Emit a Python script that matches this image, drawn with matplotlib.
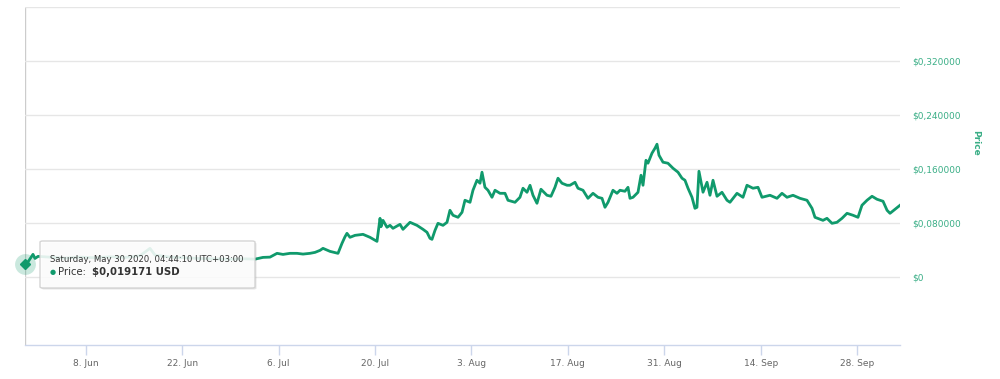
import matplotlib
matplotlib.use("Agg")
import matplotlib.pyplot as plt
import matplotlib.dates as mdates
from matplotlib.patches import FancyBboxPatch
from matplotlib.ticker import FuncFormatter, FixedLocator
import pandas as pd

# ---- data ----
start_time = "2020-05-30 04:44:10"
days_since_start = [
    0, 0.44, 0.87, 1.16, 1.45, 1.89, 3.63, 5.81, 7.98, 10.16, 12.34, 14.51, 16.69, 18.14,
    18.87, 21.05, 23.22, 25.40, 27.58, 29.75, 31.93, 33.38, 34.54, 35.56, 36.58, 37.45,
    38.46, 39.48, 40.35, 41.36, 42.09, 42.82, 43.25, 44.27, 45.43, 46.01, 46.44, 46.73,
    47.17, 47.90, 49.06, 50.07, 51.09, 51.53, 51.67, 51.96, 52.54, 52.98, 53.41, 54.43,
    54.86, 55.88, 56.89, 57.77, 58.35, 58.78, 59.07, 59.51, 59.94, 60.67, 61.25, 61.68,
    62.12, 62.85, 63.43, 63.86, 64.59, 65.02, 65.60, 66.04, 66.33, 66.76, 67.20, 67.78,
    68.22, 68.94, 69.67, 70.10, 71.12, 71.84, 72.28, 72.86, 73.30, 73.73, 74.31, 74.89,
    75.76, 76.34, 76.92, 77.36, 77.94, 78.67, 79.10, 79.83, 80.26, 80.99, 81.71, 82.44,
    83.17, 83.75, 84.18, 84.62, 85.34, 85.92, 86.36, 87.08, 87.52, 87.81, 88.25, 88.97,
    89.41, 89.70, 90.13, 90.42, 91.00, 91.44, 91.73, 92.02, 92.60, 93.32, 94.05, 94.78,
    95.36, 95.79, 96.23, 96.81, 97.24, 97.53, 97.82, 98.41, 98.99, 99.42, 99.86, 100.44,
    101.16, 101.89, 102.32, 103.34, 104.21, 104.79, 105.66, 106.39, 106.97, 108.13,
    109.15, 109.87, 110.60, 111.47, 112.48, 113.50, 114.23, 114.66, 115.82, 116.40,
    117.13, 117.85, 118.58, 119.31, 120.18, 120.90, 121.48, 122.21, 122.94, 123.66,
    124.54, 125.12, 125.55, 126.27, 127.00,
]
price_usd = [
    0.019171, 0.0230, 0.0296, 0.0341, 0.0280, 0.0311, 0.0300, 0.0285, 0.0300, 0.0290,
    0.0305, 0.0295, 0.0320, 0.0430, 0.0330, 0.0300, 0.0290, 0.0280, 0.0275, 0.0270,
    0.0275, 0.0270, 0.0296, 0.0300, 0.0356, 0.0340, 0.0356, 0.0356, 0.0345, 0.0356,
    0.0370, 0.0400, 0.0430, 0.0385, 0.0356, 0.0504, 0.0600, 0.0652, 0.0593, 0.0622,
    0.0637, 0.0593, 0.0533, 0.0874, 0.0750, 0.0844, 0.0741, 0.0770, 0.0726, 0.0785,
    0.0711, 0.0815, 0.0770, 0.0711, 0.0667, 0.0578, 0.0563, 0.0696, 0.0800, 0.0770,
    0.0815, 0.0993, 0.0919, 0.0889, 0.0963, 0.1141, 0.1111, 0.1289, 0.1437, 0.1393,
    0.1556, 0.1333, 0.1289, 0.1185, 0.1289, 0.1244, 0.1244, 0.1141, 0.1111, 0.1185,
    0.1319, 0.1259, 0.1363, 0.1215, 0.1096, 0.1304, 0.1215, 0.1200, 0.1333, 0.1467,
    0.1393, 0.1363, 0.1363, 0.1407, 0.1319, 0.1289, 0.1170, 0.1244, 0.1185, 0.1170,
    0.1037, 0.1111, 0.1289, 0.1244, 0.1289, 0.1274, 0.1333, 0.1170, 0.1185, 0.1259,
    0.1511, 0.1363, 0.1733, 0.1689, 0.1837, 0.1911, 0.1970, 0.1807, 0.1704, 0.1689,
    0.1615, 0.1556, 0.1467, 0.1437, 0.1319, 0.1185, 0.1022, 0.1037, 0.1570, 0.1260,
    0.1407, 0.1215, 0.1437, 0.1200, 0.1259, 0.1141, 0.1111, 0.1244, 0.1185, 0.1363,
    0.1319, 0.1333, 0.1185, 0.1215, 0.1170, 0.1244, 0.1185, 0.1215, 0.1170, 0.1141,
    0.1022, 0.0889, 0.0844, 0.0874, 0.0800, 0.0815, 0.0874, 0.0948, 0.0919, 0.0889,
    0.1067, 0.1141, 0.1200, 0.1156, 0.1126, 0.0993, 0.0948, 0.1007, 0.1067,
]
x_tick_dates = ["2020-06-08", "2020-06-22", "2020-07-06", "2020-07-20", "2020-08-03",
                "2020-08-17", "2020-08-31", "2020-09-14", "2020-09-28"]
y_ticks = [0, 0.08, 0.16, 0.24, 0.32, 0.40]
tooltip_date = "Saturday, May 30 2020, 04:44:10 UTC+03:00"
tooltip_price = "$0,019171 USD"

# ---- styles ----
LINE = "#109a6c"
LABEL_GREEN = "#3aae86"
GRID = "#e6e6e6"

plt.rcParams["font.family"] = ["DejaVu Sans"]

t0 = pd.Timestamp(start_time)
dates = [t0 + pd.to_timedelta(d, unit="D") for d in days_since_start]

fig = plt.figure(figsize=(10, 3.79), dpi=100)
ax = fig.add_axes([0.025, 1 - 345 / 379, 0.875, 338 / 379])

ax.plot(dates, price_usd, color=LINE, lw=2.0, solid_joinstyle="round", zorder=3)

ax.set_ylim(-0.1, 0.4)
x_end = t0 + pd.to_timedelta(127.0, unit="D")
ax.set_xlim(t0, x_end)

# y axis on the right
ax.yaxis.set_major_locator(FixedLocator(y_ticks))
ax.yaxis.tick_right()

def yfmt(v, pos):
    if abs(v) < 1e-12:
        return "$0"
    if v >= 0.399:
        return ""
    return ("$%.6f" % v).replace(".", ",")

ax.yaxis.set_major_formatter(FuncFormatter(yfmt))
ax.tick_params(axis="y", length=0, pad=9, labelsize=6.5, labelcolor=LABEL_GREEN)
for lab in ax.get_yticklabels():
    lab.set_horizontalalignment("left")
ax.grid(axis="y", color=GRID, lw=1.0, zorder=0)

ax.yaxis.set_label_position("right")
ax.set_ylabel("Price", color=LABEL_GREEN, fontsize=6.5, fontweight="bold",
              rotation=-90, va="center", ha="center")
ax.yaxis.set_label_coords(1.086, 0.598)

# x axis
ax.xaxis.set_major_locator(FixedLocator([mdates.date2num(pd.Timestamp(d)) for d in x_tick_dates]))
ax.xaxis.set_major_formatter(FuncFormatter(
    lambda v, p: mdates.num2date(v).strftime("%-d. %b")))
ax.tick_params(axis="x", length=7, width=1, color="#ccd6eb", labelsize=6.5,
               labelcolor="#666666", pad=3)

for s in ["top", "right", "left"]:
    ax.spines[s].set_visible(False)
ax.spines["bottom"].set_color("#ccd6eb")
ax.spines["bottom"].set_linewidth(1)

# crosshair at hovered point
ax.axvline(t0, color="#cccccc", lw=1, zorder=1)

# hovered marker with halo
ax.plot([t0], [price_usd[0]], marker="o", ms=15, color=LINE, alpha=0.22,
        zorder=4, clip_on=False, mec="none")
ax.plot([t0], [price_usd[0]], marker="D", ms=5, color=LINE, zorder=5, clip_on=False)

# tooltip
bx, by, bw, bh = 40 / 1000, 1 - 288 / 379, 215 / 1000, 47 / 379
shadow = FancyBboxPatch((bx + 0.0015, by - 0.004), bw, bh,
                        boxstyle="round,pad=0,rounding_size=0.003",
                        transform=fig.transFigure, facecolor="#000000", alpha=0.10,
                        edgecolor="none", zorder=10)
fig.patches.append(shadow)
box = FancyBboxPatch((bx, by), bw, bh, boxstyle="round,pad=0,rounding_size=0.003",
                     transform=fig.transFigure, facecolor="white", alpha=0.88,
                     edgecolor="#cfcfcf", lw=1, zorder=11)
fig.patches.append(box)
fig.text(50 / 1000, 1 - 259 / 379, tooltip_date, fontsize=6.1, color="#333333",
         va="center", ha="left", zorder=12)
fig.text(50 / 1000, 1 - 272 / 379, "\u25CF", fontsize=5, color=LINE, va="center",
         ha="left", zorder=12)
fig.text(58 / 1000, 1 - 272 / 379, "Price:", fontsize=7.3, color="#333333",
         va="center", ha="left", zorder=12)
fig.text(92 / 1000, 1 - 272 / 379, tooltip_price, fontsize=7.3, color="#333333",
         fontweight="bold", va="center", ha="left", zorder=12)

fig.savefig("out.png", dpi=100)
